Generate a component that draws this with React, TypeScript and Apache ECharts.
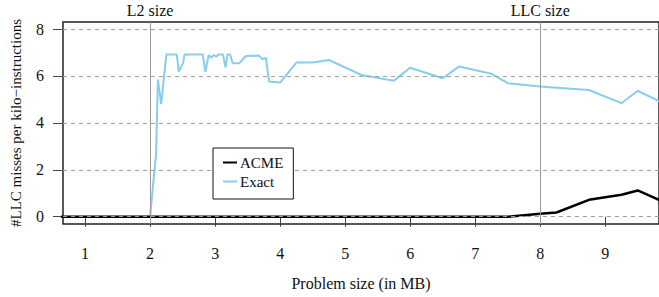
import React, { useEffect, useRef } from "react";
import * as echarts from "echarts";

// Problem size (MB) and LLC misses per kilo-instructions
const acmeX = [0.5, 7.5, 8.0, 8.25, 8.75, 9.25, 9.5, 10.0];
const acmeY = [0, 0, 0.13, 0.18, 0.72, 0.94, 1.12, 0.5];

const exactX = [
  0.5, 2.0, 2.05, 2.09, 2.12, 2.17, 2.25, 2.41, 2.44, 2.51, 2.53, 2.81, 2.85, 2.9, 2.94, 2.98,
  3.02, 3.05, 3.12, 3.16, 3.19, 3.23, 3.27, 3.37, 3.47, 3.67, 3.73, 3.78, 3.83, 4.0, 4.25, 4.5,
  4.75, 5.25, 5.75, 6.0, 6.5, 6.75, 7.25, 7.5, 8.0, 8.25, 8.75, 9.25, 9.5, 10.0,
];
const exactY = [
  0, 0, 1.5, 2.6, 5.85, 4.8, 6.92, 6.92, 6.18, 6.57, 6.92, 6.92, 6.18, 6.89, 6.78, 6.89,
  6.82, 6.92, 6.92, 6.37, 6.92, 6.92, 6.54, 6.54, 6.85, 6.87, 6.71, 6.78, 5.76, 5.72, 6.57, 6.57,
  6.68, 6.04, 5.8, 6.35, 5.9, 6.4, 6.09, 5.69, 5.55, 5.5, 5.4, 4.84, 5.37, 4.7,
];

const xTicks = [1, 2, 3, 4, 5, 6, 7, 8, 9];
const yTicks = [0, 2, 4, 6, 8];
const cacheMarks = [
  { x: 2, label: "L2 size" },
  { x: 8, label: "LLC size" },
];

const FONT = "'Liberation Serif', 'Times New Roman', serif";

export default function App() {
  const ref = useRef<HTMLDivElement>(null);
  useEffect(() => {
    document.body.style.margin = "0";
    document.body.style.overflow = "hidden";
    if (!ref.current) return;
    const chart = echarts.init(ref.current, null, { renderer: "svg" });
    const exactData = exactX.map((x, i) => [x, exactY[i]]);
    const acmeData = acmeX.map((x, i) => [x, acmeY[i]]);
    chart.setOption({
      animation: false,
      textStyle: { fontFamily: FONT },
      grid: {
        left: 60,
        top: 22,
        right: -3,
        bottom: 73,
        show: true,
        borderColor: "#222",
        borderWidth: 1.5,
        backgroundColor: "transparent",
      },
      legend: {
        data: ["ACME", "Exact"],
        orient: "vertical",
        left: 213,
        top: 148,
        padding: [7, 10, 10, 10],
        icon: "rect",
        itemWidth: 14,
        itemHeight: 2,
        itemGap: 4,
        backgroundColor: "#fff",
        borderColor: "#111",
        borderWidth: 1,
        borderRadius: 0,
        z: 10,
        textStyle: {
          fontFamily: FONT,
          fontSize: 15,
          lineHeight: 15,
          color: "#111",
          padding: [0, 0, 0, -2],
        },
      },
      xAxis: {
        type: "value",
        min: 0.66,
        max: 9.827,
        name: "Problem size (in MB)",
        nameLocation: "middle",
        nameGap: 51,
        nameTextStyle: { fontFamily: FONT, fontSize: 16, color: "#111" },
        axisLine: { show: false },
        splitLine: { show: false },
        axisTick: {
          show: true,
          customValues: xTicks,
          length: 10,
          lineStyle: { color: "#444", width: 1 },
        },
        axisLabel: {
          customValues: xTicks,
          margin: 21,
          fontFamily: FONT,
          fontSize: 16,
          color: "#111",
        },
      },
      yAxis: {
        type: "value",
        min: -0.31,
        max: 8.3,
        name: "#LLC misses per kilo\u2212instructions",
        nameLocation: "middle",
        nameGap: 40,
        nameRotate: 90,
        nameTextStyle: { fontFamily: FONT, fontSize: 15, color: "#111" },
        axisLine: { show: false },
        splitLine: { show: false },
        axisTick: {
          show: true,
          customValues: yTicks,
          length: 10,
          lineStyle: { color: "#444", width: 1 },
        },
        axisLabel: {
          customValues: yTicks,
          margin: 19,
          fontFamily: FONT,
          fontSize: 16,
          color: "#111",
        },
      },
      series: [
        {
          name: "guides",
          type: "line",
          z: 1,
          silent: true,
          data: [[0.5, -5]],
          showSymbol: false,
          lineStyle: { opacity: 0 },
          markLine: {
            silent: true,
            symbol: ["none", "none"],
            data: [
              ...yTicks.map((v) => ({
                yAxis: v,
                lineStyle: { color: "#a0a0a0", type: [4, 4], width: 1 },
                label: { show: false },
              })),
              ...cacheMarks.map((m) => ({
                xAxis: m.x,
                lineStyle: { color: "#999", type: "solid", width: 1 },
                label: {
                  show: true,
                  position: "end",
                  formatter: m.label,
                  distance: 4,
                  fontFamily: FONT,
                  fontSize: 16,
                  color: "#111",
                },
              })),
            ],
          },
        },
        {
          name: "Exact",
          type: "line",
          z: 2,
          data: exactData,
          symbol: "none",
          color: "#87CEEB",
          lineStyle: { color: "#87CEEB", width: 2 },
        },
        {
          name: "ACME",
          type: "line",
          z: 3,
          data: acmeData,
          symbol: "none",
          color: "#000",
          lineStyle: { color: "#000", width: 2.5 },
        },
      ],
    });
    return () => chart.dispose();
  }, []);
  return <div ref={ref} style={{ width: 659, height: 297 }} />;
}
